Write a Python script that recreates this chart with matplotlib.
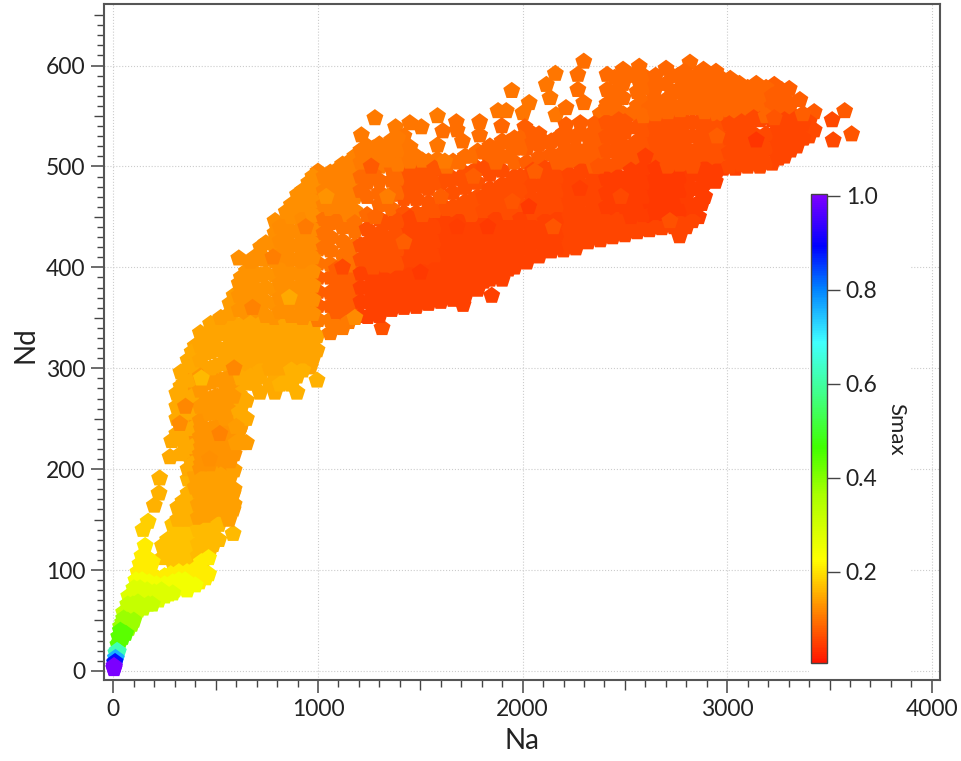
import numpy as np
import matplotlib
matplotlib.use('Agg')
import matplotlib.pyplot as plt
from matplotlib.colors import LinearSegmentedColormap, Normalize
from matplotlib.patches import Rectangle

plt.rcParams['font.family'] = ['Lato', 'DejaVu Sans']

# strips of (Na, [Nd, ...])
amber_low = [
    (145,[140]), (170,[148]), (200,[164]), (223,[176]), (226,[191]),
    (240,[112,124]), (290,[108,120,132,145]), (340,[106,118,130,142,155,168]),
    (390,[108,120,132,145,158,170]), (440,[110,122,135,148,160,172]),
    (487,[125,138,150,165,178]), (540,[158,172]), (585,[136,160,176]),
    (265,[118,130]), (315,[112,126,138,150,162]), (365,[112,124,136,150,163,176]),
    (415,[114,126,140,152,165,178]), (465,[116,128,142,154,168,180]),
    (515,[130,145,160,172,186]), (565,[150,165,180,195]),
]
amber = [
    (277,[212]), (285,[228]), (310,[235,250,262,275]), (322,[258]),
    (345,[225,240,255,270,285]), (365,[190,200,215,232,248,265,280,296,308]),
    (400,[182,194,207,220,235,250,265,280,295,310,322]),
    (450,[180,195,210,225,240,255,270,285,300,315,328]),
    (500,[185,198,212,228,242,258,272,288,302,318,332,345]),
    (550,[172,186,200,215,230,245,260,275,290,305,320,335,347]),
    (590,[165,180,199,215,230,255,270,285,300,315,330,345,358,372]),
    (613,[409]), (625,[226,244,262,390]),
    (650,[226,250,268,285,300,318,335,352,368,382,396]),
    (690,[285,300,318,335,350,365,380,395,410]),
    (716,[276,292]), (789,[276,292,306,320,335]),
    (745,[306,322,338]), (845,[288,302,316,330]), (897,[276,292,308,322]),
    (961,[301,316,330]), (995,[288,318,332]),
    (330,[215,232,248,266,282,296]), (385,[205,222,240,256,272,288,302,316]),
    (425,[200,215,232,248,262,278,292,308,322,335]),
    (475,[195,210,226,240,256,270,286,300,316,330,344]),
    (525,[180,194,210,226,242,256,272,288,304,318,334,350]),
    (570,[175,192,208,224,240,258,274,290,306,322,338,354,364]),
    (615,[238,256,274,292,308,326,342,358,372,384]),
    (670,[292,308,326,344,360,376,392,406]),
    (720,[298,312,328,344,360,376,392,408,420]),
    (765,[284,300,314,330,344]), (815,[284,300,314,328,342]),
    (870,[284,298,314,328,340]), (925,[298,312,326,338]), (975,[310,325,340]),
]
streak = [
    (430,[190,205,222,240]), (470,[205,220,238,255]), (510,[222,240,258,272]),
    (545,[250,268,285]), (585,[272,292,312]), (625,[290,310,328]), (665,[322,342]),
    (560,[232,212]), (600,[242,226]),
]
orange_mid = [
    (745,[352,366,380,394,408,424]), (790,[350,364,378,392,406,420,434,446]),
    (845,[344,358,372,386,400,414,428,442,455]), (900,[338,352,366,380,394,408,422,436,450,464,472]),
    (955,[345,360,374,388,402,416,430,444,458,472,484]),
    (1000,[348,362,376,390,404,418,432,446,460,474,488,495]),
    (815,[356,370,384,398,412,426,440]), (870,[352,366,380,394,408,422,436,450,462]),
    (925,[350,364,378,392,406,420,434,448,462,476]), (975,[354,368,382,396,410,424,438,452,466,480,490]),
    (1030,[420,434,448,462,476,490]),
]
orange_top = [
    (1060,[430,444,458,472,486,494]), (1120,[440,454,468,482,496,502]), (1180,[456,470,484,498,510]),
    (1212,[531]), (1240,[470,484,498,512,520]), (1278,[548]), (1300,[486,500,514,522]),
    (1379,[539]), (1360,[498,512,526]), (1420,[508,522,530]), (1449,[543]),
    (1505,[539,500]), (1584,[550,521,507]), (1610,[535]), (1676,[544]), (1680,[536]),
    (1706,[525]), (1790,[544,531]), (1880,[555]), (1920,[555]), (1947,[575]),
    (2032,[563]), (2002,[553]),
    (1090,[446,460,474,488,496]), (1150,[452,466,480,494,504]), (1210,[476,490,504,516]),
    (1270,[492,506,518]), (1330,[506,518]),
]
fringe = [
    (2160,[592]), (2116,[581]), (2134,[568]), (2163,[551]), (2212,[558,541]),
    (2299,[604,563]), (2270,[591,576]), (2282,[543]), (2011,[539]), (1898,[540]),
    (2413,[591,576,562]), (2491,[596,582,568,552]), (2570,[599,584,550]),
    (2640,[586,572]), (2701,[597,582,566]), (2760,[590,576]), (2818,[603,588,574]),
    (2884,[596,582]), (2945,[594,580]), (3015,[587,574]), (3142,[582]), (3230,[581]),
    (3303,[577]), (3355,[566]), (3425,[554,536]), (3574,[555]), (3513,[546]),
    (3608,[532]), (3518,[526]), (3373,[528]),
    (2450,[588,574,560]), (2530,[590,552]), (2590,[590,578,564]), (2650,[590,580,566]),
    (2730,[590,574]), (2790,[594,582,568]), (2850,[590,578,566]), (2915,[590,578,566]),
    (2980,[586,576]), (3060,[582,572]), (3100,[578]), (3190,[578,568]), (3265,[576,566]),
]
red_upper = [
    (1060,[375,390,403,417]), (1120,[385,398,412,426]), (1180,[395,408,422,436,444]),
    (1240,[410,424,438,452]), (1300,[420,434,448,462,474]), (1360,[430,444,458,472,486]),
    (1420,[440,454,468,482,496]), (1480,[440,454,468,482,496,510]),
    (1540,[450,464,478,492,505]), (1600,[455,469,483,497]), (1660,[460,474,488,505]),
    (1720,[465,479,493,510]), (1780,[470,484,498,515]), (1840,[478,492,506,520]),
    (1900,[482,496,510,525]), (1960,[490,504,518,528]), (2020,[490,504,518,530]),
    (2080,[495,509,522,532]), (2140,[498,512,525]), (2200,[500,514,524,533]),
    (2260,[505,518,530]), (2320,[505,518,530]), (2380,[510,524,538,552]),
    (2440,[515,529,543,557,572]), (2500,[520,534,544]), (2560,[525,539,560,574]),
    (2620,[525,539,558]), (2680,[530,544,556]), (2740,[530,544,560]),
    (2800,[530,544,558]), (2860,[530,544,558,570]), (2920,[545,558,570]),
    (2980,[548,562,574]), (3040,[550,564,574]), (3100,[556,568]),
    (3160,[560,572]), (3220,[560,570]), (3280,[555,566]),
    (1390,[474,488,502,516,528]), (1450,[477,491,505,519]), (1510,[480,494,506]),
    (1570,[484,498]), (1630,[486,500]), (1690,[488,504]), (1750,[494,510]),
    (1810,[498,514]), (1870,[504,518]), (1930,[510,524]), (1990,[518,528]),
    (2050,[524,532]), (2110,[524]), (2170,[528]), (2230,[530]), (2290,[532]),
    (2350,[528,542]), (2410,[530,544,558]), (2470,[532,546]), (2590,[536,550]),
    (2650,[538,552]), (2710,[540,554]), (2770,[542,556]), (2830,[544,558]),
    (2890,[540,554]), (2950,[552,566]), (3010,[556,566]), (3070,[558,568]),
    (3130,[562,572]), (3250,[556,566]), (3310,[552,562]),
]
red_main = [
    (1060,[335,348,362]), (1120,[340,354,368,380]), (1180,[350,364,378,390]), (1243,[351,366,380,394,406]),
    (1313,[340]), (1300,[352,366,380,394,408]), (1360,[358,372,386,400,414,420]),
    (1420,[360,374,388,402,416,430]), (1480,[361,375,389,403,417,431]),
    (1540,[364,378,392,406,420,434,444]), (1600,[366,380,394,408,422,436,448]),
    (1660,[368,382,396,410,424,438,452]), (1709,[363]), (1720,[372,386,400,414,428,442,456]),
    (1780,[378,392,406,420,434,448,462]), (1849,[372]), (1840,[388,402,416,430,444,458,470]),
    (1900,[388,402,416,430,444,458,472]), (1960,[400,414,428,442,456,470,482]),
    (2020,[405,419,433,447,461,475,485]), (2080,[411,425,439,453,467,481]),
    (2140,[416,430,444,458,472,486]), (2200,[417,431,445,459,473,487]),
    (2260,[419,433,447,461,475,490]), (2320,[425,439,453,467,481,495]),
    (2380,[427,441,455,469,483,498]), (2440,[430,444,458,472,486,500]),
    (2500,[432,446,504,510]), (2560,[435,449,512]), (2620,[437,451,512]),
    (2680,[439,453,516]), (2740,[440,454,518]), (2767,[431]), (2800,[440,454,518]),
    (2860,[450,464,478,492,506,518]), (2875,[463,477]), (2942,[485]),
    (2920,[492,506,520,532]), (2980,[498,512,526,536]), (3040,[498,512,526,538]),
    (3100,[500,514,528,542]), (3160,[500,514,528,546]), (3220,[503,517,531,546]),
    (3280,[510,524,538,546]), (3340,[520,534,548]), (3400,[530,544]),
    (1090,[342,356,370,384,398]), (1150,[346,360,374,388,402,416]),
    (1210,[352,366,380,394,408,422]), (1270,[358,372,386,400,414,428]),
    (1330,[360,374,388,402,416,430,444]), (1390,[362,376,390,404,418,432,446]),
    (1450,[365,379,393,407,421,435,449]), (1510,[368,382,396,410,424,438,452]),
    (1570,[370,384,398,412,426,440,456]), (1630,[372,386,400,414,428,444,458]),
    (1690,[374,388,402,416,430,446,460]), (1750,[382,396,410,424,438,452,466]),
    (1810,[386,400,414,428,442,456,470]), (1870,[392,406,420,434,448,462,476]),
    (1930,[398,412,426,440,454,468,482]), (1990,[406,420,434,448,462,476,490]),
    (2050,[412,426,440,454,468,482,496]), (2110,[418,432,446,460,474,488,498]),
    (2170,[420,434,448,462,476,490,504]), (2230,[422,436,450,464,478,492,506]),
    (2290,[426,440,454,468,482,496,510]), (2350,[430,444,458,472,486,500,514]),
    (2410,[432,446,460,474,488,502,516]), (2470,[434,448,462,476,490,504,518]),
    (2530,[436,450,508,520]), (2590,[438,452,510,522]), (2650,[440,454,510,524]),
    (2710,[442,456,512,526]), (2770,[444,458,514,528]), (2830,[446,460,514,530]),
    (2890,[470,484,498,512,526]), (2950,[496,510,524,538]), (3010,[500,514,528,542]),
    (3070,[502,516,530,544]), (3130,[504,518,532,548]), (3190,[504,518,532,550]),
    (3250,[508,522,536,544]), (3310,[516,530,542]), (3370,[528,542,552]),
]
red_deep = [
    (2500,[460,474,488]), (2560,[462,476,490,500]), (2620,[465,479,493,500]),
    (2680,[466,480,494,504]), (2740,[468,482,496,504]), (2800,[470,484,498,506]),
    (2530,[468,482,496]), (2590,[470,484,498]), (2650,[472,486,498]),
    (2710,[474,488,500]), (2770,[476,490,502]), (2830,[478,492,500]),
]
body_strips = amber_low + amber + streak + orange_mid + orange_top + fringe + red_upper + red_main + red_deep

# Smax seen in the picture, one row per 50 of Nd from 100, one column per 200 of Na from 0
smax_table = [
    [.185,.172,.165,.160,.160,.160,.160,.160,.160,.160,.160,.160,.160,.160,.160,.160,.160,.160,.160],
    [.160,.158,.142,.145,.145,.145,.145,.145,.145,.145,.145,.145,.145,.145,.145,.145,.145,.145,.145],
    [.150,.150,.128,.135,.135,.135,.135,.135,.135,.135,.135,.135,.135,.135,.135,.135,.135,.135,.135],
    [.150,.150,.132,.150,.155,.120,.090,.090,.090,.090,.090,.090,.090,.090,.090,.090,.090,.090,.090],
    [.150,.150,.145,.145,.145,.105,.065,.060,.055,.055,.055,.055,.055,.055,.055,.055,.055,.055,.055],
    [.135,.135,.135,.130,.125,.078,.052,.050,.050,.050,.050,.050,.050,.050,.050,.050,.050,.050,.050],
    [.125,.125,.125,.125,.122,.098,.066,.056,.052,.050,.052,.055,.055,.055,.055,.055,.055,.055,.055],
    [.125,.125,.125,.125,.125,.115,.090,.072,.066,.062,.058,.055,.045,.042,.045,.052,.052,.052,.052],
    [.115,.115,.115,.115,.115,.115,.105,.100,.095,.085,.080,.078,.072,.068,.068,.060,.055,.060,.070],
    [.110,.110,.110,.110,.110,.110,.110,.105,.105,.100,.100,.095,.090,.085,.085,.085,.080,.075,.075],
    [.095,.095,.095,.095,.095,.095,.095,.095,.095,.095,.095,.095,.090,.090,.090,.085,.080,.080,.080],
]

# single marks that stand out from their surroundings
spot_na = [324, 352, 520, 470, 590, 430, 680, 780, 860, 940, 1040, 1120, 1180, 1260, 1340, 1420, 1500,
           1600, 1680, 1760, 1830, 1950, 2060, 2150, 2280, 2370, 2480, 2600, 2720, 2950, 3142, 3230, 1620, 1280, 2030]
spot_nd = [245, 262, 235, 210, 300, 290, 360, 410, 370, 440, 470, 400, 350, 500, 470, 425, 395,
           470, 440, 490, 440, 465, 495, 440, 478, 500, 470, 510, 446, 530, 526, 548, 505, 450, 460]
spot_smax = [.122, .118, .115, .125, .118, .165, .115, .110, .150, .105, .130, .060, .120, .075, .110, .078, .042,
             .078, .045, .080, .042, .072, .078, .070, .048, .070, .060, .045, .065, .078, .038, .070, .105, .085, .044]

# tail at the low end, (Na, [Nd, ...]) with one Smax per band
lime_a = [(385,[92]), (420,[88]), (450,[92]), (465,[96,112]), (430,[98,108]), (395,[100]),
          (360,[98]), (320,[98]), (280,[96]), (250,[94]), (120,[98]), (145,[96,104]),
          (170,[96]), (200,[94]), (130,[106]), (190,[108]), (140,[114]), (165,[112]), (155,[124])]
lime_b = [(270,[76]), (300,[80]), (330,[82]), (360,[80]), (400,[85]), (110,[90]), (140,[90]),
          (175,[88]), (210,[86]), (250,[86]), (290,[88]), (320,[90]), (350,[90])]
lime_c = [(75,[74]), (100,[74,82]), (130,[74,82]), (160,[72]), (190,[72]), (220,[70]),
          (250,[74]), (165,[80]), (200,[78]), (235,[80]), (290,[77])]
lime_d = [(50,[58]), (70,[60,66]), (95,[56,66]), (120,[60,68]), (145,[62]), (170,[66]), (190,[66])]
green_a = [(35,[44]), (45,[48]), (60,[44]), (75,[42]), (50,[52]), (70,[50]), (90,[46]), (100,[50])]
green_b = [(22,[26]), (30,[28]), (26,[34]), (36,[32]), (45,[33]), (34,[40]), (48,[38]), (60,[37])]
teal = [(12,[18]), (18,[20,17]), (24,[19])]
sky = [(10,[13]), (14,[12])]
blue = [(6,[8]), (8,[9])]
violet = [(3,[2,5]), (2,[3]), (5,[4])]

tail_bands = [lime_a, lime_b, lime_c, lime_d, green_a, green_b, teal, sky, blue, violet]
tail_smax = [0.21, 0.245, 0.28, 0.32, 0.38, 0.44, 0.62, 0.76, 0.88, 1.0]

na, nd, smax = [], [], []
for x, ys in body_strips:
    for y in ys:
        na.append(x)
        nd.append(y)
        smax.append(smax_table[min((y - 100) // 50, 10)][min(x // 200, 18)])
na += spot_na
nd += spot_nd
smax += spot_smax
for strips, s in zip(tail_bands, tail_smax):
    for x, ys in strips:
        for y in ys:
            na.append(x)
            nd.append(y)
            smax.append(s)

W, H = 962, 761

# rainbow scale, red at the bottom
cmap = LinearSegmentedColormap.from_list('smax', [
    (0.0, '#ff1400'), (0.115, '#ff8c00'), (0.22, '#ffff00'), (0.36, '#a8ff00'), (0.46, '#40ff00'),
    (0.58, '#40ff90'), (0.685, '#40ffff'), (0.80, '#0080ff'), (0.89, '#0000ff'), (1.0, '#8000ff')])
norm = Normalize(0.006, 1.004)

fig = plt.figure(figsize=(W/100, H/100), dpi=100)
ax = fig.add_axes([104/W, 1-680/H, 836/W, 676/H])

ax.set_axisbelow(True)
ax.grid(True, which='major', linestyle=':', linewidth=0.8, color='0.8')
sc = ax.scatter(na, nd, c=smax, cmap=cmap, norm=norm, marker='p', s=165, linewidths=0, zorder=3)

ax.set_xlim(-46, 4040)
ax.set_ylim(-9, 661)
ax.set_xticks([0, 1000, 2000, 3000, 4000])
ax.set_yticks([0, 100, 200, 300, 400, 500, 600])
ax.set_xticks([t for t in range(0, 4040, 100) if t % 1000 != 0], minor=True)
ax.set_yticks([t for t in range(0, 660, 10) if t % 100 != 0], minor=True)
ax.tick_params(which='major', length=9.4, width=1.1, color='#444444', labelsize=16.5,
               labelcolor='#222222', pad=4)
ax.tick_params(which='minor', length=5, width=1.0, color='#444444')
for axis, step in ((ax.xaxis, 500), (ax.yaxis, 50)):
    for loc, tick in zip(axis.get_minorticklocs(), axis.get_minor_ticks()):
        if round(loc) % step == 0:
            tick.tick1line.set_markersize(7.2)
for sp in ax.spines.values():
    sp.set_linewidth(1.5)
    sp.set_color('#555555')

fig.text(522/W, 1-741/H, 'Na', fontsize=20, color='#222222', ha='center', va='center')
fig.text(25/W, 1-345/H, 'Nd', fontsize=20, color='#222222', ha='center', va='center', rotation=90)

# white box behind the colour scale hides the grid there
ax.add_patch(Rectangle((809/W, 1-676/H), 102/W, 491/H, transform=fig.transFigure,
                       facecolor='white', edgecolor='none', zorder=1.5))
cax = fig.add_axes([811/W, 1-663/H, 16/W, 469/H])
cb = fig.colorbar(sc, cax=cax)
cb.set_ticks([0.2, 0.4, 0.6, 0.8, 1.0])
cb.ax.tick_params(length=9.4, width=1.0, color='#444444', labelsize=16.5, labelcolor='#222222', pad=4)
cb.outline.set_linewidth(1.0)
cb.outline.set_edgecolor('#444444')
fig.text(896/W, 1-429/H, 'Smax', fontsize=16, color='#222222', ha='center', va='center', rotation=270)

fig.savefig('out.png', dpi=100)
